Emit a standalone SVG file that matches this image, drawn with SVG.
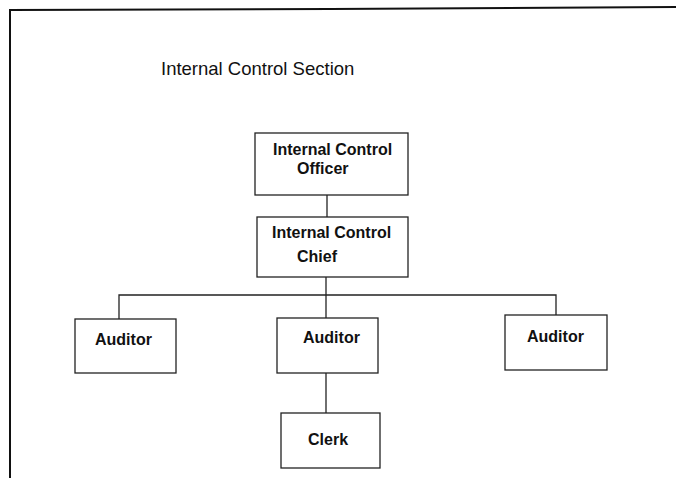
<svg xmlns="http://www.w3.org/2000/svg" width="676" height="478" viewBox="0 0 676 478">
<style>
.box{fill:#fff;stroke:#222;stroke-width:1.3}
.lbl{font-family:"Liberation Sans",Arial,sans-serif;font-weight:bold;font-size:16px;fill:#111}
.title{font-family:"Liberation Sans",Arial,sans-serif;font-size:18.5px;fill:#111}
.conn{stroke:#222;stroke-width:1.3;fill:none}
.frame{stroke:#111;stroke-width:2;fill:none}
</style>
<rect width="676" height="478" fill="#fff"/>
<g id="frame">
<path class="frame" d="M10,478 L10,10 L330,9 L676,7"/>
</g>
<text class="title" x="161" y="75">Internal Control Section</text>
<g id="connectors">
<line class="conn" x1="327" y1="195" x2="327" y2="217"/>
<line class="conn" x1="326" y1="277" x2="326" y2="295"/>
<path class="conn" d="M119,319 L119,295 L556,295 L556,315"/>
<line class="conn" x1="326" y1="295" x2="326" y2="318"/>
<line class="conn" x1="326" y1="373" x2="326" y2="413"/>
</g>
<g id="officer">
<rect class="box" x="255" y="133" width="153" height="62"/>
<text class="lbl" x="273" y="155">Internal Control</text>
<text class="lbl" x="297" y="174">Officer</text>
</g>
<g id="chief">
<rect class="box" x="257" y="217" width="151" height="60"/>
<text class="lbl" x="272" y="238">Internal Control</text>
<text class="lbl" x="297" y="262">Chief</text>
</g>
<g id="auditor1">
<rect class="box" x="75" y="319" width="101" height="54"/>
<text class="lbl" x="95" y="345">Auditor</text>
</g>
<g id="auditor2">
<rect class="box" x="277" y="318" width="101" height="55"/>
<text class="lbl" x="303" y="343">Auditor</text>
</g>
<g id="auditor3">
<rect class="box" x="505" y="315" width="102" height="55"/>
<text class="lbl" x="527" y="342">Auditor</text>
</g>
<g id="clerk">
<rect class="box" x="281" y="413" width="99" height="55"/>
<text class="lbl" x="308" y="445">Clerk</text>
</g>
</svg>
